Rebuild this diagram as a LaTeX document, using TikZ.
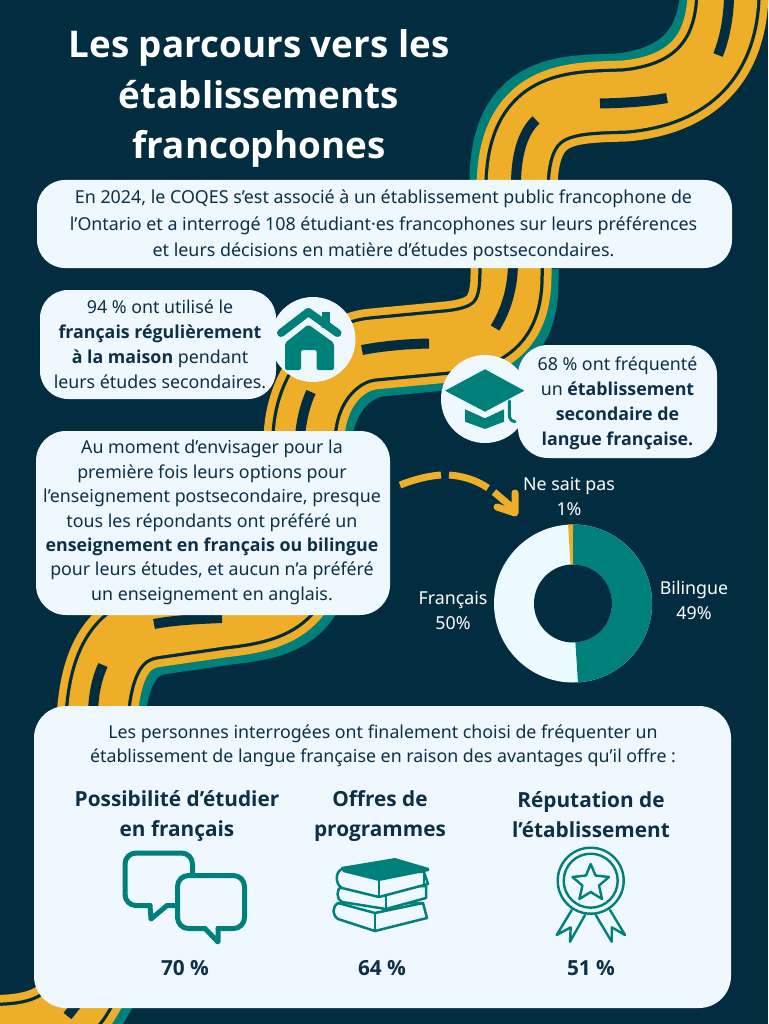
\documentclass[tikz,border=0pt]{standalone}
\usepackage{fontspec}
\setmainfont{Noto Sans}
\newfontfamily\boldfam{Open Sans}
\newcommand{\bft}[1]{{\boldfam\bfseries #1}}
\definecolor{bgnavy}{HTML}{022D40}
\definecolor{gold}{HTML}{EEAE27}
\definecolor{tealc}{HTML}{00807A}
\definecolor{panel}{HTML}{EFF7FF}
\definecolor{ink}{HTML}{0C3045}
\definecolor{donutw}{HTML}{ECFBFF}
\newcommand{\roadA}{(728,-10) .. controls (728,60) and (690,95) .. (625,101) .. controls (570,103) and (517,100) .. (517,190)}
\newcommand{\roadB}{(511,262) -- (511,275) .. controls (511,322) and (490,338) .. (447,342) -- (373,349) .. controls (340,352) and (305,385) .. (304,440) -- (304,545) .. controls (304,605) and (265,612) .. (222,617) -- (153,627) .. controls (120,632) and (100,660) .. (97,720)}
\newcommand{\roadC}{(-30,1035) .. controls (20,1037) and (62,1035) .. (85,990) -- (110,945)}
\tikzset{
  x=1pt,y=-1pt,
  roadgold/.style={draw=gold,line width=81pt,line join=round},
  roadline/.style={draw=bgnavy,line width=65.5pt,line join=round},
  roadin/.style={draw=gold,line width=59pt,line join=round},
  roadteal/.style={draw=tealc,line width=81pt,line join=round},
  lane/.style={draw=bgnavy,line width=10pt},
  card/.style={fill=panel,rounded corners=#1},
  card/.default=28pt,
  body/.style={text=ink,align=center,font=\fontsize{17.8}{25}\selectfont},
  head/.style={text=ink,align=center,font=\fontsize{20.8}{29.5}\selectfont\boldfam\bfseries},
  score/.style={text=ink,font=\fontsize{20.8}{26}\selectfont\boldfam\bfseries},
  donutlabel/.style={text=white,align=center,font=\fontsize{17.8}{25}\selectfont},
  iconfill/.style={fill=tealc},
  iconline/.style={draw=tealc,line join=round,line cap=round},
}
\begin{document}
\begin{tikzpicture}
\useasboundingbox (0,0) rectangle (768,1024);
\fill[bgnavy] (0,0) rectangle (768,1024);
\begin{scope}
\clip (0,0) rectangle (768,1024);
% road
\draw[roadteal,shift={(-7,-7)}] \roadA;
\draw[roadteal,shift={(7,7)}] \roadB;
\draw[roadteal,shift={(7,7)}] \roadC;
\foreach \st in {roadgold,roadline,roadin}{
  \draw[\st] \roadA;
  \draw[\st] \roadB;
  \draw[\st] \roadC;
}
% centre lanes
\draw[lane] (729,-5) .. controls (729,15) and (725,38) .. (718,55);
\draw[lane] (600,103.5) .. controls (625,103) and (648,101.5) .. (667,98);
\draw[lane] (536,120) .. controls (525,130) and (516,150) .. (516,185);
\draw[lane] (513,262) .. controls (513,290) and (505,312) .. (495,328);
\draw[lane] (429,343.5) .. controls (405,344) and (383,346) .. (362,350);
\draw[lane] (311,392) .. controls (305,405) and (302,418) .. (300,435);
\draw[lane] (222,618) .. controls (198,619) and (175,620) .. (154,624);
\draw[lane] (103,665) .. controls (97,678) and (94,692) .. (93,710);
\draw[lane] (67.5,1016) -- (92,985);
\end{scope}
% title
\node[text=white,align=center,font=\fontsize{36.8}{50.5}\selectfont\boldfam\bfseries] (title) at (259,98.5)
  {Les parcours vers les\\établissements\\francophones};
% cards
\fill[card] (37,180) rectangle (732,268);
\node[body,font=\fontsize{17.85}{26.5}\selectfont] (intro) at (383.5,225.5)
  {En 2024, le COQES s’est associé à un établissement public francophone de\\
   l’Ontario et a interrogé 108 étudiant·es francophones sur leurs préférences\\
   et leurs décisions en matière d’études postsecondaires.};
\fill[card] (40,290) rectangle (276,399);
\fill[panel] (313,339.5) circle[radius=42.5];
\node[body] (maison) at (160,344)
  {94 \% ont utilisé le\\\bft{français régulièrement}\\\bft{à la maison} pendant\\leurs études secondaires.};
\fill[panel] (485,399) circle[radius=44];
\fill[card=30pt] (518,345) rectangle (717,458);
\node[body] (secondaire) at (617.5,403.5)
  {68 \% ont fréquenté\\un \bft{établissement}\\\bft{secondaire de}\\\bft{langue française.}};
\fill[card=30pt] (36,431) rectangle (390,615);
\node[body,font=\fontsize{17.8}{24.4}\selectfont] (options) at (212,522.5)
  {Au moment d’envisager pour la\\première fois leurs options pour\\l’enseignement postsecondaire, presque\\tous les répondants ont préféré un\\\bft{enseignement en français ou bilingue}\\pour leurs études, et aucun n’a préféré\\un enseignement en anglais.};
\fill[card=32pt] (34,706) rectangle (731,1008);
\node[body,font=\fontsize{17.8}{24}\selectfont] (avantages) at (383,746)
  {Les personnes interrogées ont finalement choisi de fréquenter un\\établissement de langue française en raison des avantages qu’il offre :};
\node[head] (h1) at (177,816) {Possibilité d’étudier\\en français};
\node[head] (h2) at (380,816) {Offres de\\programmes};
\node[head] (h3) at (591,814.5) {Réputation de\\l’établissement};
\node[score] (s1) at (185,968) {70 \%};
\node[score] (s2) at (382,968) {64 \%};
\node[score] (s3) at (591,968) {51 \%};
% house
\fill[tealc] (322,312) rectangle (330,328);
\draw[iconline,line width=8pt] (281,333) -- (308.3,312) -- (337.5,333);
\fill[iconfill,rounded corners=2pt] (308.3,324.5) -- (285,343) -- (285,370) -- (301,370) -- (301,350) -- (316.7,350) -- (316.7,370) -- (334,370) -- (334,343) -- cycle;
% cap
\fill[iconfill] (485,369.3) -- (524.3,390.7) -- (485,411.7) -- (445,390.7) -- cycle;
\fill[iconfill] (465,409.3) -- (485,418.3) -- (504,409.3) -- (504,421.7) -- (485,429) -- (465,421.7) -- cycle;
\draw[iconline,line width=3pt] (509.3,401) -- (509.3,414) .. controls (509.3,419) and (511,421) .. (515,421.7);
% dashed arrow
\draw[draw=gold,line width=7pt] (400,485) .. controls (413,480) and (427,476) .. (441,475);
\draw[draw=gold,line width=7pt] (449,475) .. controls (463,476) and (476,480) .. (488,488);
\draw[draw=gold,line width=7pt] (494,492) -- (514,509);
\draw[draw=gold,line width=7pt,line cap=round,line join=round] (515,493) -- (515,513) -- (497,507);
% donut
\fill[donutw] (573,603.5) circle[radius=79];
\fill[tealc] (573,524.5) arc[start angle=-90,end angle=86.4,radius=79] -- (575.4,642.5) arc[start angle=86.4,end angle=-90,radius=39] -- cycle;
\fill[gold] (573,524.5) arc[start angle=-90,end angle=-93.6,radius=79] -- (570.5,564.6) arc[start angle=-93.6,end angle=-90,radius=39] -- cycle;
\fill[bgnavy] (573,603.5) circle[radius=39];
\node[donutlabel] (ne) at (569,497) {Ne sait pas\\1\%};
\node[donutlabel] (fr) at (453,611) {Français\\50\%};
\node[donutlabel] (bi) at (694,600) {Bilingue\\49\%};
% chat
\draw[iconline,line width=5pt,rounded corners=11pt] (150,905.5) -- (125,905.5) -- (125,853) -- (192.5,853) -- (192.5,880);
\draw[iconline,line width=5pt] (150,905.5) -- (151,919) -- (167,905.5) -- (178,905.5);
\draw[iconline,line width=5pt,fill=panel,rounded corners=11pt] (205,928.5) -- (177.5,928.5) -- (177.5,875.5) -- (244.5,875.5) -- (244.5,928.5) -- (218,928.5);
\draw[iconline,line width=5pt,fill=panel] (205,928.5) -- (218,942) -- (218,928.5);
% books
\draw[iconline,line width=2.5pt,fill=panel] (338,903) .. controls (332,907) and (332,915) .. (338,919) -- (375,931) -- (427,918) -- (423,903) -- cycle;
\draw[iconline,line width=2.5pt] (338,903) -- (375,913) -- (423,903);
\draw[iconline,line width=2.5pt] (375,913) -- (375,931);
\draw[iconline,line width=2.5pt,fill=panel] (342,886) .. controls (336,889) and (336,899) .. (342,902) -- (386,909) -- (426,898) -- (426,886) -- cycle;
\draw[iconline,line width=2.5pt] (386,896) -- (386,909);
\draw[iconline,line width=2.5pt,fill=panel] (342,869) .. controls (335,872) and (335,884) .. (342,888) -- (379,897) -- (428,884) -- (424,872) -- cycle;
\fill[iconfill] (341,867) -- (395,858) -- (429,868) -- (429,871) -- (379,881) -- (343,872) -- cycle;
\draw[iconline,line width=2.5pt] (379,881) -- (379,897);
\draw[iconline,line width=2.5pt] (424,872) -- (424,884);
% medal
\draw[iconline,line width=2.4pt] (590.7,880.7) circle[radius=33];
\draw[iconline,line width=2.4pt] (590.7,880.7) circle[radius=27];
\draw[iconline,line width=2.4pt] (590.7,864) -- (595.5,875.5) -- (609,877) -- (599,885.5) -- (602,899) -- (590.7,892) -- (579.4,899) -- (582.4,885.5) -- (572.4,877) -- (586,875.5) -- cycle;
\draw[iconline,line width=2.4pt] (571.7,910) -- (556.7,935) -- (570.7,927.3) -- (570,941.7) -- (585,915);
\draw[iconline,line width=2.4pt] (610,910) -- (625,935) -- (611.7,927.3) -- (611.7,941.7) -- (595.7,915);
\end{tikzpicture}
\end{document}
